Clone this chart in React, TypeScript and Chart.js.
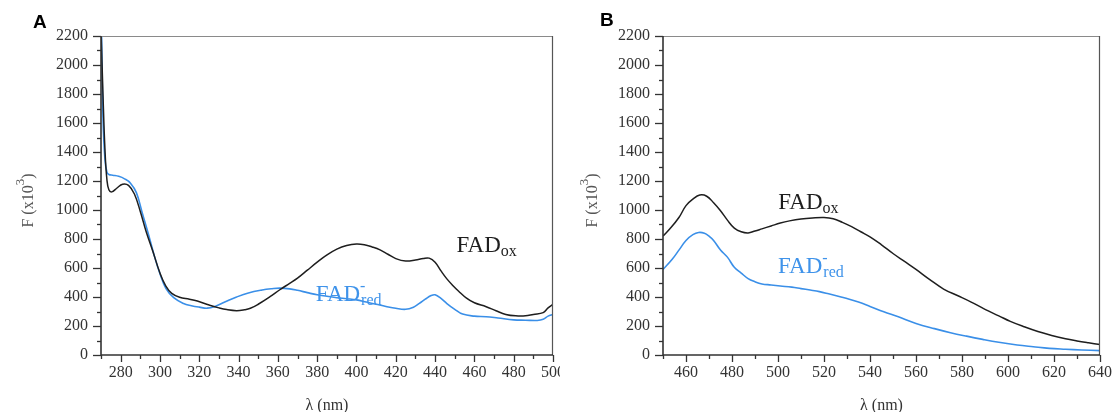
import { useEffect, useRef } from "react";
import { Chart, registerables } from "chart.js";
Chart.register(...registerables);

// ---------- data ----------
// Panel A (270-500 nm)
const A_OX_X = [270, 271, 272, 273, 274, 275.5, 278, 281, 284, 287, 290, 293, 296.5, 300, 303, 306, 310, 315, 319, 325, 330, 334, 339, 343, 346, 350, 356, 361, 366, 370, 375, 380, 385, 390, 395, 400, 404, 408, 412, 416, 420, 425, 430, 434, 437, 440, 443, 446, 449, 452, 456, 460, 466, 471, 476, 481, 486, 490, 495, 497.5, 500];
const A_OX_Y = [2250, 1800, 1420, 1210, 1140, 1125, 1150, 1178, 1170, 1110, 990, 850, 710, 565, 475, 425, 398, 385, 372, 345, 325, 313, 306, 312, 322, 350, 402, 450, 494, 530, 585, 640, 690, 730, 755, 765, 760, 745, 725, 695, 665, 648, 655, 666, 668, 640, 580, 525, 480, 440, 392, 360, 333, 305, 280, 270, 270, 280, 292, 325, 350];
const A_RED_X = [270.3, 271, 272, 273, 274, 276, 279, 282, 285, 288, 291, 294, 297, 300, 303, 307, 312, 316, 320, 324, 328, 333, 339, 345, 352, 357, 361, 366, 370, 375, 380, 385, 390, 395, 400, 405, 410, 415, 420, 425, 429, 432, 435, 438, 440, 443, 446, 450, 454, 460, 466, 472, 480, 486, 492, 495, 497.5, 500];
const A_RED_Y = [2200, 1640, 1350, 1262, 1245, 1240, 1232, 1215, 1185, 1120, 980, 840, 690, 560, 460, 395, 355, 340, 330, 323, 335, 365, 400, 428, 448, 457, 461, 456, 446, 430, 415, 405, 395, 388, 380, 365, 350, 335, 322, 315, 330, 356, 385, 410, 415, 390, 355, 315, 282, 268, 264, 255, 242, 240, 238, 246, 268, 280];

// Panel B (450-640 nm)
const B_OX_X = [450, 453, 457, 460, 463, 466, 469, 472, 475, 478, 481, 484, 487, 490, 493, 497, 501, 505, 510, 515, 520, 524, 528, 532, 536, 540, 545, 550, 555, 560, 566, 572, 578, 584, 590, 596, 601, 607, 613, 619, 625, 630, 635, 640];
const B_OX_Y = [820, 870, 950, 1030, 1075, 1103, 1095, 1050, 995, 930, 875, 850, 842, 855, 870, 890, 910, 925, 938, 945, 948, 940, 915, 885, 850, 815, 760, 700, 645, 590, 520, 455, 410, 365, 315, 270, 232, 195, 162, 135, 112, 97, 84, 72];
const B_RED_X = [450, 454, 457, 460, 463, 465.5, 468, 470, 472, 475, 478, 481, 484, 487, 490, 493, 497, 501, 506, 510, 514, 518, 522, 527, 531, 535, 540, 546, 552, 560, 568, 575, 582, 589, 596, 604, 611, 618, 625, 632, 640];
const B_RED_Y = [590, 660, 725, 790, 830, 845, 840, 820, 790, 724, 675, 605, 565, 527, 505, 490, 483, 476, 468, 458, 448, 437, 422, 402, 385, 365, 335, 298, 265, 218, 182, 154, 130, 108, 88, 69, 57, 46, 40, 35, 30];

// ticks
const Y_TICKS = [0, 200, 400, 600, 800, 1000, 1200, 1400, 1600, 1800, 2000, 2200];
const A_X_TICKS = [280, 300, 320, 340, 360, 380, 400, 420, 440, 460, 480, 500];
const B_X_TICKS = [460, 480, 500, 520, 540, 560, 580, 600, 620, 640];

// in-plot labels (anchor in data units)
const A_LABELS = [
  { x: 450.9, y: 712, main: "FAD", sup: "", sub: "ox", color: "#1e1e1e" },
  { x: 379.3, y: 372, main: "FAD", sup: "-", sub: "red", color: "#3f93ea" },
];
const B_LABELS = [
  { x: 500.1, y: 1005, main: "FAD", sup: "", sub: "ox", color: "#1e1e1e" },
  { x: 500.0, y: 563, main: "FAD", sup: "-", sub: "red", color: "#3f93ea" },
];
const Y_TITLE = ["F (x10", "3", ")"];
const X_TITLE = "λ (nm)";

const SERIF = '"Liberation Serif", "Times New Roman", serif';
const BLACK = "#1e1e1e";
const BLUE = "#3a8fe8";

const zip = (xs: number[], ys: number[]) => xs.map((x, i) => ({ x, y: ys[i] }));

const decorPlugin = {
  id: "decor",
  afterDraw(chart: any, _args: any, opts: any) {
    const { ctx, chartArea: ca, scales } = chart;
    const xs = scales.x;
    const ys = scales.y;
    ctx.save();
    // frame
    ctx.lineWidth = 1.2;
    ctx.strokeStyle = "#8a8a8a";
    ctx.beginPath();
    ctx.moveTo(ca.left, ca.top + 0.5);
    ctx.lineTo(ca.right, ca.top + 0.5);
    ctx.stroke();
    ctx.strokeStyle = "#555";
    ctx.beginPath();
    ctx.moveTo(ca.right - 0.5, ca.top);
    ctx.lineTo(ca.right - 0.5, ca.bottom);
    ctx.stroke();
    // axes
    ctx.strokeStyle = "#333";
    ctx.lineWidth = 1.6;
    ctx.beginPath();
    ctx.moveTo(ca.left, ca.top);
    ctx.lineTo(ca.left, ca.bottom);
    ctx.lineTo(ca.right, ca.bottom);
    ctx.stroke();
    // y ticks
    ctx.lineWidth = 1.3;
    for (let v = ys.min; v <= ys.max + 0.01; v += opts.yMinor) {
      const py = Math.round(ys.getPixelForValue(v)) + 0.5;
      const major = Math.round(v) % opts.yMajor === 0;
      const len = major ? 8 : 4;
      ctx.beginPath();
      ctx.moveTo(ca.left - len, py);
      ctx.lineTo(ca.left, py);
      ctx.stroke();
    }
    // x ticks
    const start = Math.ceil(xs.min / opts.xMinor) * opts.xMinor;
    for (let v = start; v <= xs.max + 0.01; v += opts.xMinor) {
      const px = Math.round(xs.getPixelForValue(v)) + 0.5;
      const major = Math.round(v) % opts.xMajor === 0;
      const len = major ? 7 : 4;
      ctx.beginPath();
      ctx.moveTo(px, ca.bottom);
      ctx.lineTo(px, ca.bottom + len);
      ctx.stroke();
    }
    // y title with superscript
    {
      ctx.save();
      const mainFont = `16px ${SERIF}`;
      const supFont = `13px ${SERIF}`;
      ctx.font = mainFont;
      const w1 = ctx.measureText(Y_TITLE[0]).width;
      const w3 = ctx.measureText(Y_TITLE[2]).width;
      ctx.font = supFont;
      const w2 = ctx.measureText(Y_TITLE[1]).width;
      const total = w1 + w2 + w3;
      ctx.translate(opts.yTitleX, (ca.top + ca.bottom) / 2 + 5);
      ctx.rotate(-Math.PI / 2);
      ctx.fillStyle = "#555";
      ctx.textBaseline = "middle";
      ctx.textAlign = "left";
      let cx = -total / 2;
      ctx.font = mainFont;
      ctx.fillText(Y_TITLE[0], cx, 0);
      cx += w1;
      ctx.font = supFont;
      ctx.fillText(Y_TITLE[1], cx, -8);
      cx += w2;
      ctx.font = mainFont;
      ctx.fillText(Y_TITLE[2], cx, 0);
      ctx.restore();
    }
    // in-plot labels
    for (const l of opts.labels) {
      const px = xs.getPixelForValue(l.x);
      const py = ys.getPixelForValue(l.y);
      ctx.fillStyle = l.color;
      ctx.textBaseline = "alphabetic";
      ctx.textAlign = "left";
      ctx.font = `23px ${SERIF}`;
      ctx.fillText(l.main, px, py);
      const cx = px + ctx.measureText(l.main).width;
      ctx.font = `16px ${SERIF}`;
      if (l.sup) {
        ctx.fillText(l.sup, cx, py - 10);
      }
      ctx.fillText(l.sub, cx + (l.sup ? 1 : 0), py + 4);
    }
    ctx.restore();
  },
};

type PanelProps = {
  left: number;
  width: number;
  yAxisWidth: number;
  padRight: number;
  yTitleX: number;
  xMin: number;
  xMax: number;
  xTicks: number[];
  ox: { x: number; y: number }[];
  red: { x: number; y: number }[];
  labels: any[];
};

function Panel(p: PanelProps) {
  const ref = useRef<HTMLCanvasElement | null>(null);
  useEffect(() => {
    if (!ref.current) return;
    const tickFont = { family: SERIF, size: 16 };
    const chart = new Chart(ref.current, {
      type: "line",
      data: {
        datasets: [
          {
            label: "FADox",
            data: p.ox,
            borderColor: BLACK,
            borderWidth: 1.5,
            pointRadius: 0,
            tension: 0.4,
            fill: false,
          },
          {
            label: "FADred",
            data: p.red,
            borderColor: BLUE,
            borderWidth: 1.6,
            pointRadius: 0,
            tension: 0.4,
            fill: false,
          },
        ],
      },
      options: {
        animation: false,
        responsive: false,
        events: [],
        layout: { padding: { left: 0, right: p.padRight, top: 36, bottom: 0 } },
        plugins: {
          legend: { display: false },
          tooltip: { enabled: false },
          decor: { yMinor: 100, yMajor: 200, xMinor: 10, xMajor: 20, labels: p.labels, yTitleX: p.yTitleX },
        } as any,
        scales: {
          x: {
            type: "linear",
            min: p.xMin,
            max: p.xMax,
            grid: { display: false, drawTicks: false },
            border: { display: false },
            afterBuildTicks: (s: any) => {
              s.ticks = p.xTicks.map((v) => ({ value: v }));
            },
            afterFit: (s: any) => {
              s.height = 65;
              s.paddingLeft = 0;
              s.paddingRight = 0;
            },
            ticks: {
              font: tickFont,
              color: "#333",
              padding: 8,
              maxRotation: 0,
              autoSkip: false,
              callback: (v: any) => String(v),
            },
            title: {
              display: true,
              text: X_TITLE,
              font: { family: SERIF, size: 16 },
              color: "#333",
              padding: { top: 0, bottom: 5 },
            },
          },
          y: {
            type: "linear",
            min: 0,
            max: 2200,
            grid: { display: false, drawTicks: false },
            border: { display: false },
            afterBuildTicks: (s: any) => {
              s.ticks = Y_TICKS.map((v) => ({ value: v }));
            },
            afterFit: (s: any) => {
              s.width = p.yAxisWidth;
            },
            ticks: {
              font: tickFont,
              color: "#333",
              padding: 13,
              autoSkip: false,
              callback: (v: any) => String(v),
            },
          },
        },
      },
      plugins: [decorPlugin as any],
    });
    return () => chart.destroy();
  }, []);
  return (
    <canvas
      ref={ref}
      width={p.width}
      height={420}
      style={{ position: "absolute", left: p.left, top: 0, width: p.width, height: 420 }}
    />
  );
}

export default function App() {
  return (
    <div
      style={{
        position: "absolute",
        left: 0,
        top: 0,
        width: 1113,
        height: 412,
        overflow: "hidden",
        background: "#fff",
      }}
    >
      <Panel
        left={0}
        width={560}
        yAxisWidth={101}
        padRight={7}
        yTitleX={29}
        xMin={270}
        xMax={500}
        xTicks={A_X_TICKS}
        ox={zip(A_OX_X, A_OX_Y)}
        red={zip(A_RED_X, A_RED_Y)}
        labels={A_LABELS}
      />
      <Panel
        left={560}
        width={553}
        yAxisWidth={103}
        padRight={13}
        yTitleX={33}
        xMin={450}
        xMax={640}
        xTicks={B_X_TICKS}
        ox={zip(B_OX_X, B_OX_Y)}
        red={zip(B_RED_X, B_RED_Y)}
        labels={B_LABELS}
      />
      <div
        style={{
          position: "absolute",
          left: 33,
          top: 12,
          font: `bold 19px "Liberation Sans", Arial, sans-serif`,
          lineHeight: 1,
          color: "#000",
        }}
      >
        A
      </div>
      <div
        style={{
          position: "absolute",
          left: 600,
          top: 10,
          font: `bold 19px "Liberation Sans", Arial, sans-serif`,
          lineHeight: 1,
          color: "#000",
        }}
      >
        B
      </div>
    </div>
  );
}
